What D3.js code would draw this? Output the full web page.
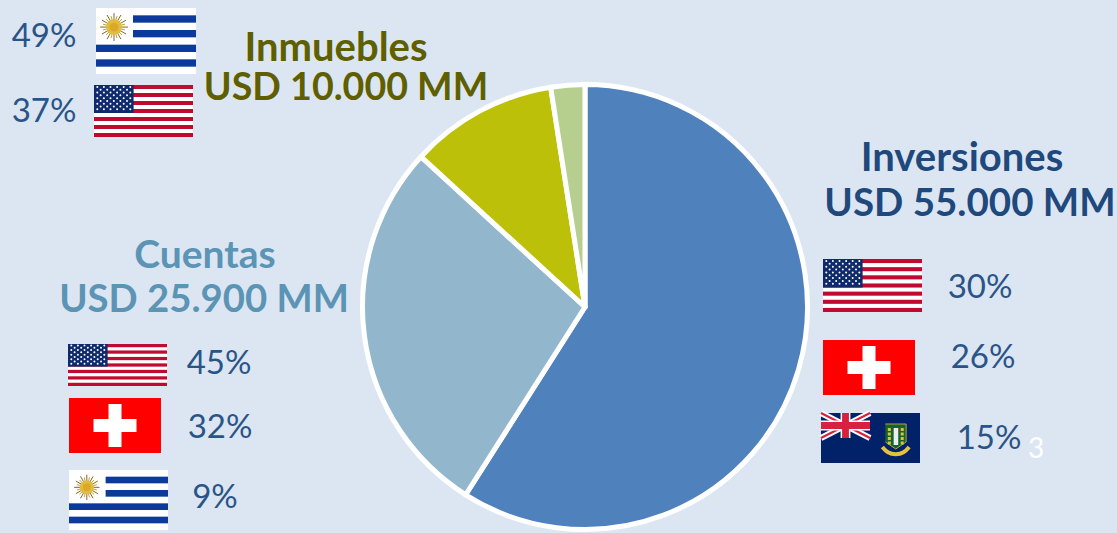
<!DOCTYPE html>
<html><head><meta charset="utf-8">
<script src="https://cdn.jsdelivr.net/npm/d3@7"></script>
<style>html,body{margin:0;padding:0;background:#DCE6F2;overflow:hidden}svg{display:block}text{font-family:Lato,"Open Sans",sans-serif}</style>
</head><body><div id="c"></div>
<script>
const categories=["Inversiones","Cuentas","Inmuebles","Otros"];
const values=[55000,25900,10000,2300];
const colors=["#4F81BD","#92B7CC","#BDC008","#B7CF8E"];
const headingLines=[["Inversiones","USD 55.000 MM"],["Cuentas","USD 25.900 MM"],["Inmuebles","USD 10.000 MM"]];
const headingColors=["#1F497D","#5B94B5","#5F5F00"];
const headingX=[[962,970],[205,204],[336,346]];
const headingY=[[171,216],[268,312],[61,100]];
const headingSize=[[40,38.5],[39,38.3],[40,37.6]];
const pctLabels=["49%","37%","30%","26%","15%","45%","32%","9%"];
const pctX=[44,44,980,983,989,219,220,215];
const pctY=[47,122,298,368,449,374,438,508];
const flagTypes=["uy","us","us","ch","vg","us","ch","uy"];
const flagBoxes=[[96,8,100,66],[94,85,99,52],[823,259,99,53],[823,340,92,55],[821,413,99,50],[68,344,99,42],[69,398,92,55],[69,470,99,60]];

const W=1117,H=533;
const svg=d3.select("#c").append("svg").attr("width",W).attr("height",H);
svg.append("rect").attr("width",W).attr("height",H).attr("fill","#DCE6F2");
const cx=585,cy=307,R=222.5;
const pie=d3.pie().sort(null).value(d=>d);
const arc=d3.arc().innerRadius(0).outerRadius(R);
svg.append("g").attr("transform",`translate(${cx},${cy})`).selectAll("path").data(pie(values)).join("path")
 .attr("d",arc).attr("fill",(d,i)=>colors[i]).attr("stroke","#fff").attr("stroke-width",5).attr("stroke-linejoin","round");

headingLines.forEach((ls,i)=>ls.forEach((t,j)=>svg.append("text").attr("x",headingX[i][j]).attr("y",headingY[i][j])
 .attr("text-anchor","middle").attr("font-size",headingSize[i][j]).attr("font-weight",700).attr("fill",headingColors[i]).text(t)));

pctLabels.forEach((t,i)=>svg.append("text").attr("x",pctX[i]).attr("y",pctY[i]).attr("text-anchor","middle")
 .attr("font-size",33).attr("fill","#2A5488").text(t));
svg.append("text").attr("x",1036).attr("y",458).attr("text-anchor","middle").attr("font-size",28).attr("fill","#fff").text("3");

function flag(type,[x,y,w,h]){
 const g=svg.append("g").attr("transform",`translate(${x},${y})`);
 const r=(a,b,c,d,f)=>g.append("rect").attr("x",a).attr("y",b).attr("width",c).attr("height",d).attr("fill",f);
 const l=(a,b,c,d,f,s)=>g.append("line").attr("x1",a).attr("y1",b).attr("x2",c).attr("y2",d).attr("stroke",f).attr("stroke-width",s);
 if(type==="us"){
  r(0,0,w,h,"#fff");
  d3.range(0,13,2).forEach(i=>r(0,i*h/13,w,h/13,"#C10A30"));
  const cw=w*0.4,ch=h*7/13; r(0,0,cw,ch,"#0F2A6B");
  d3.range(9).forEach(row=>{const n=row%2?5:6;d3.range(n).forEach(k=>{
   g.append("circle").attr("cx",(k+(row%2?1:.5))*cw/6).attr("cy",(row+.7)*ch/10).attr("r",1).attr("fill","#fff");});});
 } else if(type==="ch"){
  r(0,0,w,h,"#FF0000");
  const cxx=w/2,cyy=h/2,L=21.5,T=13;
  r(cxx-L,cyy-T/2,2*L,T,"#fff"); r(cxx-T/2,cyy-L,T,2*L,"#fff");
 } else if(type==="uy"){
  r(0,0,w,h,"#fff");
  const s=h/9;
  [1,3].forEach(i=>r(w*0.37,i*s,w*0.63,s,"#0B3A9B"));
  [5,7].forEach(i=>r(0,i*s,w,s,"#0B3A9B"));
  const sx=w*0.18,sy=s*2.6;
  d3.range(24).forEach(i=>{const a=i*Math.PI/12;
   l(sx,sy,sx+Math.cos(a)*s*(i%2?1.55:1.9),sy+Math.sin(a)*s*(i%2?1.55:1.9),i%2?"#C9A227":"#7A6A35",1);});
  g.append("circle").attr("cx",sx).attr("cy",sy).attr("r",s*1.05).attr("fill","#E4BC3C");
  g.append("circle").attr("cx",sx).attr("cy",sy).attr("r",s*.6).attr("fill","#D9A92C");
 } else {
  r(0,0,w,h,"#012169");
  const uw=w*0.495,uh=h*0.5;
  l(0,0,uw,uh,"#fff",6);l(uw,0,0,uh,"#fff",6);
  l(0,0,uw,uh,"#D8203F",2);l(uw,0,0,uh,"#D8203F",2);
  r(0,uh*.3,uw,uh*.4,"#fff"); r(uw*.4,0,uw*.2,uh,"#fff");
  r(0,uh*.36,uw,uh*.28,"#D8203F"); r(uw*.43,0,uw*.14,uh,"#D8203F");
  const bx=w*0.65,bw=w*0.21;
  g.append("path").attr("d",d3.line()([[bx,h*.22],[bx+bw,h*.22],[bx+bw,h*.58],[bx+bw/2,h*.72],[bx,h*.58]])).attr("fill","#12652F").attr("stroke","#B9A23A").attr("stroke-width",1);
  r(bx+bw*.4,h*.3,bw*.22,h*.34,"#EDEDED");
  d3.range(4).forEach(i=>{r(bx+bw*.12,h*(.3+i*.09),3,3,"#D9C23C");r(bx+bw*.74,h*(.3+i*.09),3,3,"#D9C23C");});
  g.append("path").attr("d",d3.line().curve(d3.curveBasis)([[bx-3,h*.68],[bx+bw*.1,h*.8],[bx+bw/2,h*.84],[bx+bw*.9,h*.8],[bx+bw+3,h*.68]])).attr("fill","none").attr("stroke","#E3C33A").attr("stroke-width",4);
 }
}
flagTypes.forEach((t,i)=>flag(t,flagBoxes[i]));
</script></body></html>
